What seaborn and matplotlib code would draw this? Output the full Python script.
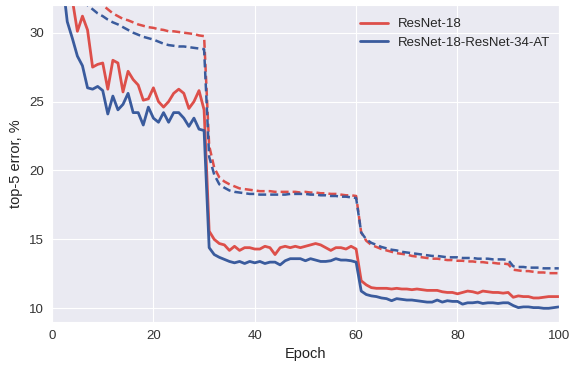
import numpy as np
import pandas as pd
import matplotlib
matplotlib.use("Agg")
import matplotlib.pyplot as plt
import seaborn as sns

epochs = list(range(1, 101))

# validation top-5 error, ResNet-18
resnet18_val = [
    45.0, 38.0, 34.5, 32.4, 30.1, 31.2, 30.2, 27.5, 27.7, 27.8,
    25.9, 28.0, 27.8, 25.7, 27.2, 26.6, 26.2, 25.1, 25.2, 26.0,
    25.0, 24.6, 25.0, 25.6, 25.9, 25.6, 24.5, 25.0, 25.8, 24.4,
    15.6, 15.0, 14.7, 14.6, 14.2, 14.5, 14.2, 14.4, 14.4, 14.3,
    14.3, 14.5, 14.4, 13.9, 14.4, 14.5, 14.4, 14.5, 14.4, 14.5,
    14.6, 14.7, 14.6, 14.4, 14.2, 14.4, 14.4, 14.3, 14.5, 14.3,
    12.0, 11.7, 11.5, 11.45, 11.45, 11.45, 11.4, 11.45, 11.4, 11.4,
    11.35, 11.4, 11.35, 11.3, 11.3, 11.3, 11.2, 11.15, 11.15, 11.05,
    11.15, 11.25, 11.2, 11.1, 11.25, 11.2, 11.15, 11.15, 11.1, 11.15,
    10.8, 10.9, 10.85, 10.85, 10.75, 10.75, 10.8, 10.85, 10.85, 10.85,
]

# validation top-5 error, ResNet-18 student with ResNet-34 attention transfer
resnet18_at_val = [
    40.0, 34.0, 30.8, 29.6, 28.3, 27.6, 26.0, 25.9, 26.1, 25.8,
    24.1, 25.4, 24.4, 24.8, 25.6, 24.2, 24.2, 23.3, 24.6, 23.8,
    23.5, 24.2, 23.5, 24.2, 24.2, 23.8, 23.2, 23.8, 23.0, 22.9,
    14.4, 13.9, 13.7, 13.55, 13.4, 13.3, 13.4, 13.25, 13.4, 13.3,
    13.4, 13.25, 13.35, 13.35, 13.15, 13.45, 13.6, 13.6, 13.6, 13.45,
    13.6, 13.5, 13.4, 13.4, 13.45, 13.6, 13.5, 13.5, 13.45, 13.35,
    11.25, 11.0, 10.9, 10.85, 10.75, 10.7, 10.55, 10.7, 10.65, 10.6,
    10.6, 10.55, 10.5, 10.45, 10.45, 10.6, 10.45, 10.55, 10.5, 10.5,
    10.3, 10.4, 10.4, 10.45, 10.35, 10.4, 10.4, 10.35, 10.4, 10.4,
    10.2, 10.05, 10.1, 10.1, 10.05, 10.05, 10.0, 10.0, 10.05, 10.1,
]

# training top-5 error, ResNet-18
resnet18_train = [
    44.0, 40.5, 38.0, 36.3, 35.0, 34.0, 33.3, 32.8, 32.4, 32.0,
    31.7, 31.4, 31.2, 31.0, 30.9, 30.75, 30.6, 30.5, 30.4, 30.35,
    30.25, 30.2, 30.1, 30.1, 30.05, 30.0, 29.95, 29.9, 29.8, 29.75,
    21.8, 20.2, 19.5, 19.2, 19.0, 18.85, 18.7, 18.65, 18.6, 18.55,
    18.5, 18.5, 18.5, 18.45, 18.45, 18.45, 18.45, 18.45, 18.4, 18.45,
    18.4, 18.4, 18.35, 18.35, 18.3, 18.3, 18.25, 18.2, 18.2, 18.15,
    15.5, 14.9, 14.6, 14.45, 14.3, 14.2, 14.1, 14.0, 13.95, 13.9,
    13.8, 13.75, 13.7, 13.65, 13.6, 13.6, 13.55, 13.5, 13.5, 13.45,
    13.45, 13.4, 13.4, 13.35, 13.35, 13.3, 13.3, 13.25, 13.25, 13.2,
    12.8, 12.75, 12.7, 12.7, 12.65, 12.6, 12.6, 12.55, 12.55, 12.55,
]

# training top-5 error, ResNet-18 with attention transfer
resnet18_at_train = [
    42.0, 38.5, 36.0, 34.5, 33.5, 32.7, 32.0, 31.7, 31.4, 31.2,
    30.95, 30.75, 30.6, 30.4, 30.2, 30.0, 29.85, 29.7, 29.6, 29.5,
    29.35, 29.2, 29.1, 29.05, 29.0, 29.0, 28.95, 28.9, 28.85, 28.8,
    21.0, 19.7, 19.0, 18.75, 18.55, 18.45, 18.4, 18.35, 18.3, 18.3,
    18.25, 18.25, 18.25, 18.25, 18.25, 18.25, 18.3, 18.3, 18.3, 18.3,
    18.25, 18.25, 18.2, 18.2, 18.15, 18.15, 18.1, 18.1, 18.05, 18.0,
    15.5, 15.0, 14.75, 14.6, 14.45, 14.35, 14.25, 14.2, 14.1, 14.05,
    14.0, 13.95, 13.9, 13.85, 13.8, 13.8, 13.75, 13.7, 13.7, 13.7,
    13.65, 13.65, 13.65, 13.6, 13.6, 13.6, 13.55, 13.55, 13.55, 13.5,
    13.05, 13.0, 13.0, 12.95, 12.95, 12.95, 12.9, 12.9, 12.9, 12.9,
]

model_names = ["ResNet-18", "ResNet-18-ResNet-34-AT"]
colors = {"ResNet-18": "#dd4f4a", "ResNet-18-ResNet-34-AT": "#3a5b9d"}

sns.set_style("darkgrid")
plt.rcParams["font.family"] = ["Liberation Sans", "DejaVu Sans"]

frames = []
for name, val, train in [
    (model_names[0], resnet18_val, resnet18_train),
    (model_names[1], resnet18_at_val, resnet18_at_train),
]:
    frames.append(pd.DataFrame({"epoch": epochs, "error": val, "model": name, "split": "val"}))
    frames.append(pd.DataFrame({"epoch": epochs, "error": train, "model": name, "split": "train"}))
df = pd.concat(frames, ignore_index=True)

fig = plt.figure(figsize=(5.72, 3.66), dpi=100)
ax = fig.add_axes([0.091, 0.12, 0.886, 0.866])

for name in model_names:
    sub = df[(df.model == name) & (df.split == "val")]
    sns.lineplot(data=sub, x="epoch", y="error", ax=ax, color=colors[name],
                 linewidth=2.0, label=name)
    sub = df[(df.model == name) & (df.split == "train")]
    sns.lineplot(data=sub, x="epoch", y="error", ax=ax, color=colors[name],
                 linewidth=1.8, linestyle=(0, (3.2, 1.6)), legend=False)

ax.set_xlim(0, 100)
ax.set_ylim(9, 32)
ax.set_xticks([0, 20, 40, 60, 80, 100])
ax.set_yticks([10, 15, 20, 25, 30])
ax.tick_params(labelsize=9.5, colors="#333333", length=0, pad=6)
ax.set_xlabel("Epoch", fontsize=10.5, color="#222222", labelpad=3)
ax.set_ylabel("top-5 error, %", fontsize=10.5, color="#222222", labelpad=4)

handles, labels = ax.get_legend_handles_labels()
ax.legend(handles[:2], labels[:2], loc="upper right", frameon=False,
          fontsize=9.5, handlelength=2.1, handletextpad=0.7,
          borderaxespad=0.45, labelspacing=0.45,
          bbox_to_anchor=(1.004, 0.994))

fig.savefig("out.png", dpi=100)
